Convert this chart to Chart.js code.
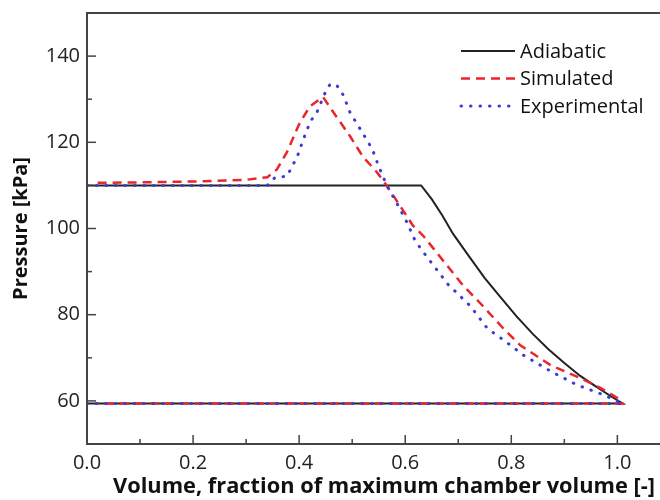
<!DOCTYPE html>
<html>
<head>
<meta charset="utf-8">
<script src="https://cdn.jsdelivr.net/npm/chart.js@4/dist/chart.umd.min.js"></script>
<style>
  html, body { margin: 0; padding: 0; background: #fff; overflow: hidden; }
  #caixa { width: 700px; height: 500px; }
</style>
</head>
<body>
<div id="caixa"><canvas id="grafico" width="700" height="500"></canvas></div>
<script>
// Dados (volume em fração, pressão em kPa)
const adiabaticoV = [0, 0.63, 0.65, 0.67, 0.69, 0.72, 0.75, 0.78, 0.81, 0.84, 0.87, 0.9, 0.93, 0.96, 0.99, 1.01, 0];
const adiabaticoP = [110, 110, 106.8, 103, 98.8, 93.6, 88.5, 84, 79.6, 75.6, 72, 68.8, 65.8, 63.3, 60.9, 59.4, 59.4];

const simuladoV = [0.02, 0.1, 0.2, 0.3, 0.34, 0.358, 0.377, 0.4, 0.42, 0.445, 0.47, 0.496, 0.52, 0.547, 0.566, 0.59, 0.615, 0.634, 0.666, 0.709, 0.742, 0.785, 0.817, 0.874, 0.93, 0.968, 1.0, 1.01, 0.02];
const simuladoP = [110.6, 110.7, 110.9, 111.3, 111.9, 113.7, 117.7, 124.2, 128.3, 130.5, 126, 121.4, 116.7, 113, 109.8, 105.3, 100.6, 98.3, 93.4, 86.8, 82.6, 76.8, 72.9, 68.3, 65.3, 63, 60.7, 59.4, 59.4];

const experimentalV = [0, 0.2, 0.34, 0.355, 0.377, 0.387, 0.396, 0.408, 0.421, 0.434, 0.449, 0.458, 0.47, 0.483, 0.496, 0.518, 0.538, 0.55, 0.566, 0.585, 0.603, 0.619, 0.641, 0.681, 0.723, 0.755, 0.789, 0.823, 0.874, 0.924, 0.974, 1.01, 0];
const experimentalP = [110, 110, 110, 111.9, 112.1, 114.5, 116.5, 120.7, 124.8, 127.1, 131.5, 133.4, 133.4, 131, 126.9, 122.5, 118.4, 114.4, 109.8, 105.7, 101.5, 97.1, 93.4, 87, 82, 76.8, 73.8, 70.6, 66.9, 63.7, 61.4, 59.4, 59.4];

const nomesSeries = ['Adiabatic', 'Simulated', 'Experimental'];
const ticksX = [0, 0.2, 0.4, 0.6, 0.8, 1.0];
const ticksY = [60, 80, 100, 120, 140];
const ticksMenoresX = [0.1, 0.3, 0.5, 0.7, 0.9, 1.1];
const ticksMenoresY = [70, 90, 110, 130];

const juntar = (vs, ps) => vs.map((v, i) => ({ x: v, y: ps[i] }));

const fonte = '"Open Sans", "Noto Sans", sans-serif';
const corPreta = '#222222';
const corVermelha = '#e8262e';
const corAzul = '#3c3cd2';

// Estilos das séries (também usados na legenda)
const estilos = [
  { cor: corPreta, largura: 2, traco: [], ponta: 'butt' },
  { cor: corVermelha, largura: 2.5, traco: [9, 6], ponta: 'butt' },
  { cor: corAzul, largura: 3, traco: [0.5, 9], ponta: 'round' }
];

// Plugin para ticks internos, borda superior e legenda dentro do gráfico
const extras = {
  id: 'extras',
  afterDraw(chart) {
    const ctx = chart.ctx;
    const a = chart.chartArea;
    const sx = chart.scales.x;
    const sy = chart.scales.y;
    ctx.save();
    ctx.strokeStyle = '#444';
    ctx.lineWidth = 2;
    ctx.beginPath();
    ctx.moveTo(a.left - 1, a.top);
    ctx.lineTo(a.right, a.top);
    ctx.stroke();

    ctx.lineWidth = 1.5;
    const risco = (x1, y1, x2, y2) => { ctx.beginPath(); ctx.moveTo(x1, y1); ctx.lineTo(x2, y2); ctx.stroke(); };
    ticksX.forEach(v => { const p = sx.getPixelForValue(v); risco(p, a.bottom, p, a.bottom - 9); });
    ticksMenoresX.forEach(v => { const p = sx.getPixelForValue(v); risco(p, a.bottom, p, a.bottom - 5); });
    ticksY.forEach(v => { const p = sy.getPixelForValue(v); risco(a.left, p, a.left + 9, p); });
    ticksMenoresY.forEach(v => { const p = sy.getPixelForValue(v); risco(a.left, p, a.left + 5, p); });

    // legenda
    ctx.font = '20px ' + fonte;
    ctx.textBaseline = 'middle';
    ctx.fillStyle = '#111';
    nomesSeries.forEach((nome, i) => {
      const y = 51 + i * 27.5;
      const e = estilos[i];
      ctx.strokeStyle = e.cor;
      ctx.lineWidth = e.largura;
      ctx.lineCap = e.ponta;
      ctx.setLineDash(e.traco);
      risco(461, y, 515, y);
      ctx.setLineDash([]);
      ctx.fillText(nome, 520, y + 1);
    });
    ctx.restore();
  }
};

const series = [juntar(adiabaticoV, adiabaticoP), juntar(simuladoV, simuladoP), juntar(experimentalV, experimentalP)];

const grafico = new Chart(document.getElementById('grafico'), {
  type: 'line',
  data: {
    datasets: series.map((dados, i) => ({
      label: nomesSeries[i],
      data: dados,
      borderColor: estilos[i].cor,
      borderWidth: estilos[i].largura,
      borderDash: estilos[i].traco,
      borderCapStyle: estilos[i].ponta,
      pointRadius: 0,
      tension: 0,
      fill: false,
      order: 3 - i
    }))
  },
  options: {
    responsive: false,
    animation: false,
    layout: { padding: { top: 13, right: 19, left: 0, bottom: 0 } },
    plugins: { legend: { display: false }, tooltip: { enabled: false } },
    scales: {
      x: {
        type: 'linear',
        min: 0,
        max: 1.12,
        afterBuildTicks: s => { s.ticks = ticksX.map(v => ({ value: v })); },
        afterFit: s => { s.height = 56; s.paddingLeft = 0; s.paddingRight = 0; },
        grid: { display: false, drawTicks: false },
        border: { display: true, color: '#444', width: 2 },
        ticks: {
          padding: 7,
          color: '#222',
          font: { family: fonte, size: 20 },
          maxRotation: 0,
          callback: v => v.toFixed(1)
        },
        title: {
          display: true,
          text: 'Volume, fraction of maximum chamber volume [-]',
          color: '#111',
          font: { family: fonte, size: 21.8, weight: 'bold' },
          padding: { top: -1, bottom: 0 }
        }
      },
      y: {
        min: 50,
        max: 150,
        afterBuildTicks: s => { s.ticks = ticksY.map(v => ({ value: v })); },
        afterFit: s => { s.width = 87; s.paddingTop = 0; s.paddingBottom = 0; },
        grid: { display: false, drawTicks: false },
        border: { display: true, color: '#444', width: 2 },
        ticks: {
          padding: 7,
          color: '#222',
          font: { family: fonte, size: 20 }
        },
        title: {
          display: true,
          text: 'Pressure [kPa]',
          color: '#111',
          font: { family: fonte, size: 20, weight: 'bold' },
          padding: { top: 9, bottom: 0 }
        }
      }
    }
  },
  plugins: [extras]
});
</script>
</body>
</html>
